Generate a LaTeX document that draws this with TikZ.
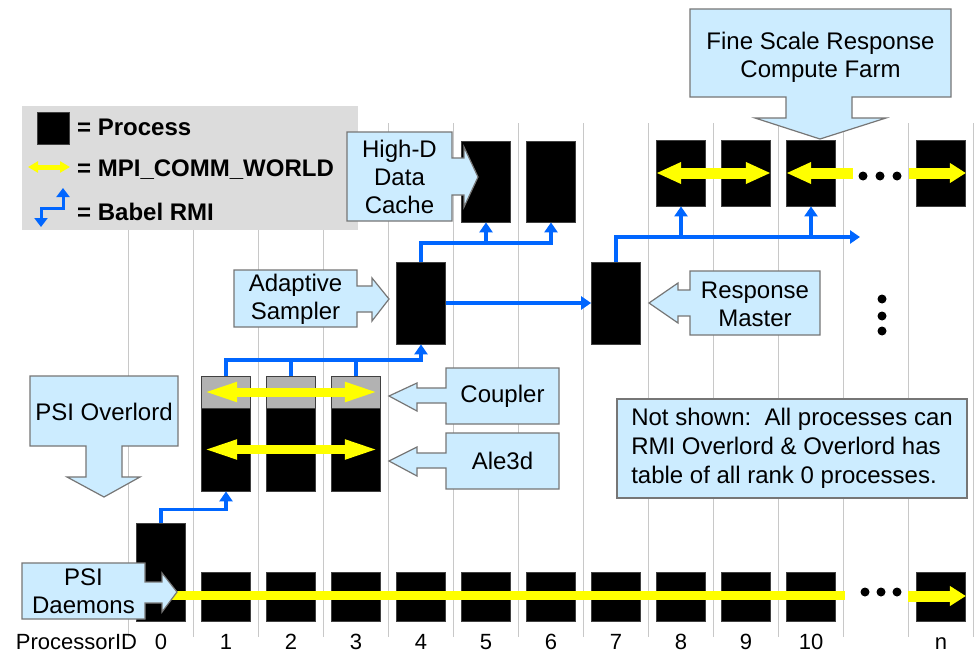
\documentclass[tikz,border=0pt]{standalone}
\usepackage{fontspec}
\setmainfont{Liberation Sans}
\usetikzlibrary{arrows.meta}
\definecolor{calloutblue}{RGB}{204,236,255}
\definecolor{calloutgray}{RGB}{118,118,118}
\definecolor{rmiblue}{RGB}{0,102,255}
\definecolor{mpiyellow}{RGB}{255,255,0}
\definecolor{legendgray}{RGB}{220,220,220}
\definecolor{gridgray}{RGB}{200,200,200}
\definecolor{couplergray}{RGB}{178,178,178}

\begin{document}
\begin{tikzpicture}[x=1pt, y=-1pt,
    proc/.style={fill=black, draw=black!75, line width=0.8pt, inner sep=0pt, minimum width=49pt},
    coupl/.style={proc, fill=couplergray},
    rmi/.style={draw=rmiblue, line width=3.5pt, -{Triangle[length=10pt,width=13pt]}},
    rmiline/.style={draw=rmiblue, line width=3.5pt},
    mpi/.style={draw=mpiyellow},
    callout/.style={fill=calloutblue, draw=calloutgray, line width=1.2pt, line join=miter},
    lbl/.style={font=\fontsize{24}{28}\selectfont, align=center, inner sep=0pt},
    leg/.style={font=\bfseries\fontsize{24}{28}\selectfont, anchor=west, inner sep=0pt}]
    \path[fill=white, use as bounding box] (0,0) rectangle (977,653);

    % Processor columns
    \foreach \i in {0,...,13} {
        \draw[gridgray, line width=1pt] ({128+65*\i},123) -- ({128+65*\i},637);
    }
    \foreach \k/\l in {0/0, 1/1, 2/2, 3/3, 4/4, 5/5, 6/6, 7/7, 8/8, 9/9, 10/10, 12/n} {
        \node[font=\fontsize{22}{26}\selectfont, anchor=base, inner sep=0pt] (pid\k) at ({161+65*\k},649) {\l};
    }
    \node[font=\fontsize{22}{26}\selectfont, anchor=base, inner sep=0pt] (pidlabel) at (76.5,649) {ProcessorID};

    % Legend
    \fill[legendgray] (22,106) rectangle (358,230);
    \node[proc, minimum width=32pt, minimum height=32pt] (lproc) at (53,128) {};
    \node[leg] (lproctxt) at (77,127) {= Process};
    \draw[mpi, line width=5pt, {Triangle[length=10pt,width=11pt]}-{Triangle[length=10pt,width=11pt]}] (28,167) -- (70,167);
    \node[leg] (lmpitxt) at (77,170) {= MPI\_COMM\_WORLD};
    \draw[draw=rmiblue, line width=3pt, {Triangle[length=9pt,width=13pt]}-{Triangle[length=9pt,width=13pt]}] (41,227) -- (41,208) -- (63,208) -- (63,188);
    \node[leg] (lrmitxt) at (77,212) {= Babel RMI};

    % Processes
    \node[proc, minimum height=98pt] (b0) at (161,572) {};
    \foreach \k in {1,...,10} {
        \node[proc, minimum height=49pt] (b\k) at ({161+65*\k},596.5) {};
    }
    \node[proc, minimum height=49pt] (bn) at (941,596.5) {};
    \foreach \k in {1,2,3} {
        \node[coupl, minimum height=32pt] (g\k) at ({161+65*\k},392) {};
        \node[proc, minimum height=83pt] (a\k) at ({161+65*\k},449.5) {};
    }
    \node[proc, minimum height=82pt] (p4) at (421,303) {};
    \node[proc, minimum height=82pt] (p7) at (616,303) {};
    \foreach \n/\x in {5/486, 6/551} {
        \node[proc, minimum height=81pt] (p\n) at (\x,181.5) {};
    }
    \foreach \n/\x in {8/681, 9/746, 10/811, n/941} {
        \node[proc, minimum height=66pt] (p\n) at (\x,173) {};
    }

    % Babel RMI
    \coordinate (cbus) at (0,360);
    \coordinate (hbus) at (0,243);
    \coordinate (fbus) at (860,237);
    \draw[rmi] (b0.north) -- ++(0,-13) -| (a1.south);
    \draw[rmi] (g1.north) -- (g1.north |- cbus) -| (p4.south);
    \draw[rmiline] (g2.north) -- (g2.north |- cbus);
    \draw[rmiline] (g3.north) -- (g3.north |- cbus);
    \draw[rmi] (p4.north) -- (p4.north |- hbus) -| (p6.south);
    \draw[rmi] (p5.south |- hbus) -- (p5.south);
    \draw[rmi] (p4.east) -- (p7.west);
    \draw[rmi] (p7.north) |- (fbus);
    \draw[rmi] (p8.south |- fbus) -- (p8.south);
    \draw[rmi] (p10.south |- fbus) -- (p10.south);

    % MPI_COMM_WORLD
    \draw[mpi, line width=9pt, {Triangle[length=36pt,width=17pt]}-{Triangle[length=36pt,width=17pt]}] (g1.west) -- (g3.east);
    \draw[mpi, line width=9pt, {Triangle[length=36pt,width=17pt]}-{Triangle[length=36pt,width=17pt]}] (a1.west) -- (a3.east);
    \draw[mpi, line width=11pt, {Triangle[length=25pt,width=20pt]}-{Triangle[length=25pt,width=20pt]}] (p8.west) -- (p9.east);
    \coordinate (fend) at (853,173);
    \draw[mpi, line width=11pt, {Triangle[length=25pt,width=20pt]}-] (p10.west) -- (fend);
    \foreach \x in {863,880,897} \fill (\x,176) circle[radius=4.5pt];
    \coordinate (fstart) at (909,173);
    \draw[mpi, line width=11pt, -{Triangle[length=16pt,width=19pt]}] (fstart) -- (pn.east);
    \coordinate (dend) at (845,595.5);
    \draw[mpi, line width=9pt] (b0 |- dend) -- (dend);
    \foreach \x in {865,881,897} \fill (\x,592) circle[radius=4.5pt];
    \coordinate (nstart) at (908,596);
    \draw[mpi, line width=11pt, -{Triangle[length=16pt,width=19pt]}] (nstart) -- (bn.east |- nstart);
    \foreach \y in {299,316,331} \fill (882,\y) circle[radius=4.5pt];

    % Callouts
    \draw[callout] (690,9) -- (951,9) -- (951,97) -- (852,97) -- (852,118) -- (886,118) -- (820,139) -- (755,118) -- (786,118) -- (786,97) -- (690,97) -- cycle;
    \node[lbl] (farm) at (820.5,57) {Fine Scale Response\\Compute Farm};
    \draw[callout] (347,132) -- (452,132) -- (452,158) -- (464,158) -- (464,147) -- (478,177) -- (464,207) -- (464,195) -- (452,195) -- (452,221) -- (347,221) -- cycle;
    \node[lbl] (cache) at (399.5,177) {High-D\\Data\\Cache};
    \draw[callout] (234,270) -- (357,270) -- (357,286) -- (372,286) -- (372,278) -- (389,299) -- (372,321) -- (372,312) -- (357,312) -- (357,327) -- (234,327) -- cycle;
    \node[lbl] (sampler) at (295.5,299.5) {Adaptive\\Sampler};
    \draw[callout] (690,271) -- (820,271) -- (820,335) -- (690,335) -- (690,316) -- (678,316) -- (678,323) -- (649,303) -- (678,283) -- (678,290) -- (690,290) -- cycle;
    \node[lbl] (master) at (755,304) {Response\\Master};
    \draw[callout] (446,368) -- (559,368) -- (559,424) -- (446,424) -- (446,403) -- (417,403) -- (417,411) -- (389,396) -- (417,383) -- (417,388) -- (446,388) -- cycle;
    \node[lbl] (coupler) at (502.5,396) {Coupler};
    \draw[callout] (446,433) -- (559,433) -- (559,489) -- (446,489) -- (446,468) -- (417,468) -- (417,476) -- (389,461) -- (417,447) -- (417,453) -- (446,453) -- cycle;
    \node[lbl] (ale) at (502.5,461) {Ale3d};
    \draw[callout] (30,376) -- (178,376) -- (178,446) -- (122,446) -- (122,477) -- (140,477) -- (104,497) -- (67,477) -- (86,477) -- (86,446) -- (30,446) -- cycle;
    \node[lbl] (overlord) at (104,412) {PSI Overlord};
    \draw[callout] (22,563) -- (145,563) -- (145,582) -- (162,582) -- (162,573) -- (177,592) -- (162,612) -- (162,603) -- (145,603) -- (145,619) -- (22,619) -- cycle;
    \node[lbl] (daemons) at (83.5,591) {PSI\\Daemons};
    \node[callout, font=\fontsize{24}{29}\selectfont, align=left, inner sep=0pt, minimum width=350pt, minimum height=99pt] (notshown) at (792,448.5) {Not shown:\ \ All processes can\\RMI Overlord \& Overlord has\\table of all rank 0 processes.};
\end{tikzpicture}
\end{document}
